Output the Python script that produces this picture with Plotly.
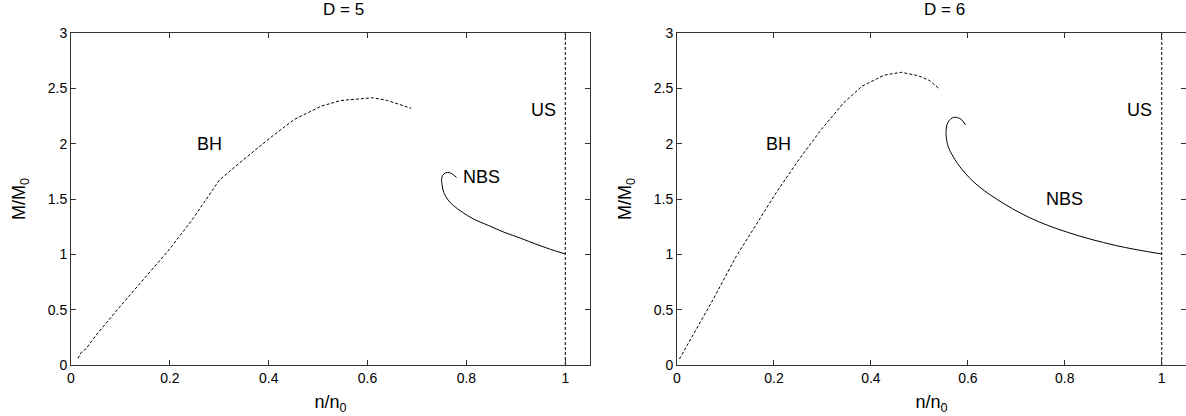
import plotly.graph_objects as go

# D = 5
bh5_x = [0.014, 0.02, 0.03, 0.05, 0.09, 0.153, 0.2, 0.248, 0.30, 0.342, 0.405, 0.452, 0.507, 0.546, 0.61, 0.64, 0.688]
bh5_y = [0.06, 0.11, 0.145, 0.265, 0.48, 0.81, 1.05, 1.33, 1.67, 1.83, 2.06, 2.22, 2.34, 2.39, 2.415, 2.39, 2.32]
nbs5_x = [0.78, 0.770, 0.762, 0.754, 0.750, 0.751, 0.754, 0.763, 0.774, 0.792, 0.814, 0.845, 0.876, 0.91, 0.94, 0.97, 1.0]
nbs5_y = [1.695, 1.73, 1.74, 1.726, 1.69, 1.62, 1.56, 1.49, 1.44, 1.38, 1.32, 1.26, 1.20, 1.145, 1.093, 1.045, 1.003]

# D = 6
bh6_x = [0.005, 0.036, 0.075, 0.121, 0.167, 0.205, 0.252, 0.298, 0.344, 0.382, 0.428, 0.463, 0.498, 0.521, 0.54]
bh6_y = [0.054, 0.295, 0.596, 0.973, 1.30, 1.56, 1.86, 2.13, 2.37, 2.52, 2.62, 2.645, 2.614, 2.57, 2.5]
nbs6_x = [0.595, 0.586, 0.571, 0.559, 0.555, 0.559, 0.570, 0.582, 0.613, 0.659, 0.728, 0.805, 0.905, 1.0]
nbs6_y = [2.17, 2.22, 2.238, 2.193, 2.10, 1.98, 1.88, 1.80, 1.65, 1.50, 1.33, 1.20, 1.08, 1.003]

us_x = [1.0, 1.0]
us_y = [0.0, 3.0]

titles = ["D = 5", "D = 6"]
labels5 = [("BH", 0.28, 2.0), ("NBS", 0.83, 1.7), ("US", 0.955, 2.3)]
labels6 = [("BH", 0.21, 2.0), ("NBS", 0.80, 1.5), ("US", 0.955, 2.3)]

xticks = [0, 0.2, 0.4, 0.6, 0.8, 1]
xticklabels = ["0", "0.2", "0.4", "0.6", "0.8", "1"]
yticks = [0, 0.5, 1, 1.5, 2, 2.5, 3]
yticklabels = ["0", "0.5", "1", "1.5", "2", "2.5", "3"]

FONT = "Liberation Sans, Arial, Helvetica, sans-serif"
D1 = [71 / 1186, 590 / 1186]
D2 = [677 / 1186, 1.0]

fig = go.Figure()

def add_panel(bx, by, nx, ny, xa, ya):
    fig.add_trace(go.Scatter(x=bx, y=by, mode="lines", xaxis=xa, yaxis=ya,
                             line=dict(color="black", width=1, dash="3px,2px")))
    fig.add_trace(go.Scatter(x=nx, y=ny, mode="lines", xaxis=xa, yaxis=ya,
                             line=dict(color="black", width=1, shape="spline")))
    fig.add_trace(go.Scatter(x=us_x, y=us_y, mode="lines", xaxis=xa, yaxis=ya,
                             line=dict(color="black", width=1, dash="3px,2px")))

add_panel(bh5_x, bh5_y, nbs5_x, nbs5_y, "x", "y")
add_panel(bh6_x, bh6_y, nbs6_x, nbs6_y, "x2", "y2")

axis_common = dict(showgrid=False, zeroline=False, showline=True, linecolor="#333",
                   linewidth=1, mirror="allticks", ticks="inside", ticklen=5, automargin=False,
                   tickcolor="#333", tickfont=dict(family=FONT, size=14, color="black"))

xt = dict(text="n/n<sub>0</sub>", font=dict(family=FONT, size=18), standoff=10)
yt = dict(text="M/M<sub>0</sub>", font=dict(family=FONT, size=18), standoff=17)

fig.update_layout(
    width=1186, height=416,
    margin=dict(l=0, r=0, t=33, b=51),
    paper_bgcolor="white", plot_bgcolor="white",
    showlegend=False,
    font=dict(family=FONT, color="black"),
    xaxis=dict(domain=D1, range=[0, 1.05], tickvals=xticks, ticktext=xticklabels,
               title=xt, anchor="y", **axis_common),
    yaxis=dict(domain=[0, 1], range=[0, 3], tickvals=yticks, ticktext=yticklabels,
               title=yt, anchor="x", **axis_common),
    xaxis2=dict(domain=D2, range=[0, 1.05], tickvals=xticks, ticktext=xticklabels,
                title=xt, anchor="y2", **axis_common),
    yaxis2=dict(domain=[0, 1], range=[0, 3], tickvals=yticks, ticktext=yticklabels,
                title=yt, anchor="x2", **axis_common),
)

ann = []
for (t, x, y) in labels5:
    ann.append(dict(text=t, x=x, y=y, xref="x", yref="y", showarrow=False,
                    font=dict(family=FONT, size=18, color="black")))
for (t, x, y) in labels6:
    ann.append(dict(text=t, x=x, y=y, xref="x2", yref="y2", showarrow=False,
                    font=dict(family=FONT, size=18, color="black")))
ann.append(dict(text=titles[0], x=0.525, y=1.0, xref="x domain", yref="paper",
                yanchor="bottom", yshift=12, showarrow=False, font=dict(family=FONT, size=17, color="black")))
ann.append(dict(text=titles[1], x=0.525, y=1.0, xref="x2 domain", yref="paper",
                yanchor="bottom", yshift=12, showarrow=False, font=dict(family=FONT, size=17, color="black")))
fig.update_layout(annotations=ann)

fig.write_html("out.html")
